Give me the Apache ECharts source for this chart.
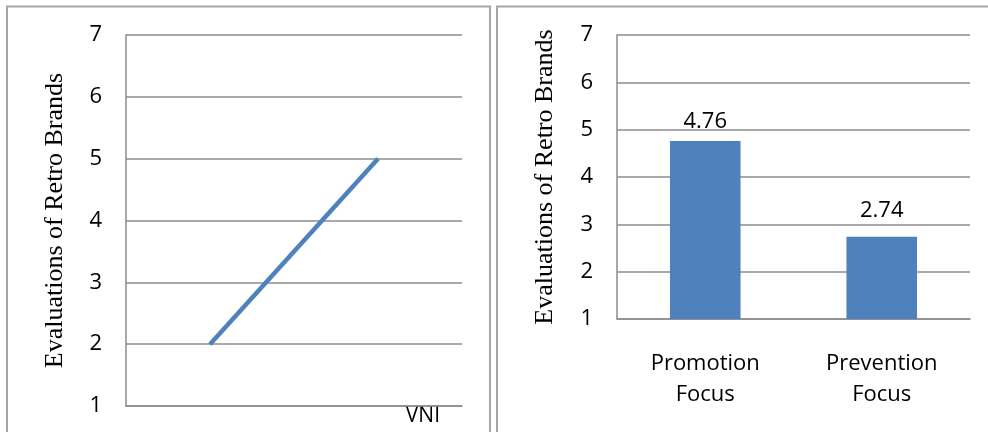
<!DOCTYPE html>
<html>
<head>
<meta charset="utf-8">
<script src="https://cdn.jsdelivr.net/npm/echarts@6/dist/echarts.min.js"></script>
<style>
  html, body { margin: 0; padding: 0; background: #fff; }
  #chart { width: 988px; height: 432px; }
</style>
</head>
<body>
<div id="chart"></div>
<script>
// Left panel: VNI line
const vniCategories = ['Low', 'High'];
const vniValues = [2, 5];

// Right panel: regulatory focus bars
const focusCategories = ['Promotion\nFocus', 'Prevention\nFocus'];
const focusValues = [4.76, 2.74];

// Shared value axis
const yMin = 1;
const yMax = 7;
const yStep = 1;
const yTitle = 'Evaluations of Retro Brands';
const xTitle = 'VNI';

const blue = '#4F81BD';
const gridGray = '#8c8c8c';
const frameGray = '#a6a6a6';
const sansFont = '"Open Sans", "Noto Sans", sans-serif';
const serifFont = '"Liberation Serif", "Times New Roman", serif';

function valueAxis(gridIndex, nameGap) {
  return {
    type: 'value', gridIndex, min: yMin, max: yMax, interval: yStep,
    name: yTitle, nameLocation: 'middle', nameGap,
    nameTextStyle: { fontFamily: serifFont, fontSize: 26, color: '#000' },
    axisLine: { show: true, lineStyle: { color: gridGray, width: 1.5 } },
    axisTick: { show: false },
    axisLabel: { margin: 24, fontFamily: sansFont, fontSize: 22, color: '#000' },
    splitLine: { show: true, lineStyle: { color: gridGray, width: 1.5 } }
  };
}

const chart = echarts.init(document.getElementById('chart'), null, { renderer: 'canvas' });
chart.setOption({
  animation: false,
  backgroundColor: '#fff',
  grid: [
    { left: 126, right: 526, top: 35, bottom: 26 },
    { left: 617, right: 18, top: 35, bottom: 113 }
  ],
  xAxis: [
    {
      type: 'category', gridIndex: 0, data: vniCategories, boundaryGap: true,
      name: xTitle, nameLocation: 'end', nameGap: -22,
      nameTextStyle: { fontFamily: sansFont, fontSize: 21, color: '#000', align: 'right', verticalAlign: 'top', padding: [0, 0, 0, 0] },
      axisLine: { show: true, lineStyle: { color: gridGray, width: 1.5 } },
      axisTick: { show: false },
      axisLabel: { show: false },
      splitLine: { show: false }
    },
    {
      type: 'category', gridIndex: 1, data: focusCategories, boundaryGap: true,
      axisLine: { show: true, lineStyle: { color: gridGray, width: 1.5 } },
      axisTick: { show: false },
      axisLabel: { margin: 29, fontFamily: sansFont, fontSize: 22, lineHeight: 31, color: '#000' },
      splitLine: { show: false }
    }
  ],
  yAxis: [valueAxis(0, 58), valueAxis(1, 59)],
  series: [
    {
      type: 'line', xAxisIndex: 0, yAxisIndex: 0, data: vniValues,
      showSymbol: false, lineStyle: { color: blue, width: 4.5 }, z: 5
    },
    {
      type: 'bar', xAxisIndex: 1, yAxisIndex: 1,
      data: focusValues.map((v, i) => ({ value: v, label: { distance: i === 0 ? 8 : 15 } })),
      barWidth: '40%', itemStyle: { color: blue },
      label: {
        show: true, position: 'top',
        fontFamily: sansFont, fontSize: 22, color: '#000',
        formatter: p => p.value.toFixed(2)
      }
    }
  ],
  graphic: [
    // panel frames
    { type: 'polyline', shape: { points: [[7, 440], [7, 6.5], [490, 6.5], [490, 440]] },
      style: { stroke: frameGray, lineWidth: 2, fill: null }, silent: true },
    { type: 'polyline', shape: { points: [[497, 440], [497, 6.5], [990, 6.5]] },
      style: { stroke: frameGray, lineWidth: 2, fill: null }, silent: true }
  ]
});
</script>
</body>
</html>
